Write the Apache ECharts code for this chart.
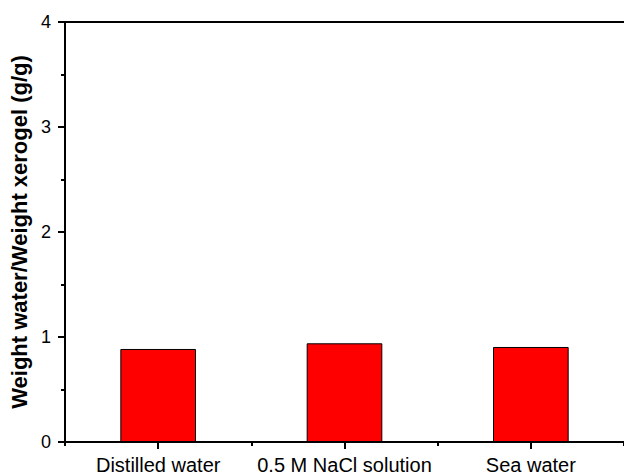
<!DOCTYPE html>
<html>
<head>
<meta charset="utf-8">
<script src="https://cdn.jsdelivr.net/npm/echarts@6/dist/echarts.min.js"></script>
<style>html,body{margin:0;padding:0;background:#fff;}#c{width:624px;height:476px;}</style>
</head>
<body>
<div id="c"></div>
<script>
const categories = ['Distilled water', '0.5 M NaCl solution', 'Sea water'];
const values = [0.886, 0.94, 0.905];
const yTicks = [0, 1, 2, 3, 4];
const yTitle = 'Weight water/Weight xerogel (g/g)';

const chart = echarts.init(document.getElementById('c'), null, {renderer: 'svg'});
const font = 'Arial, "Liberation Sans", sans-serif';
const yMin = yTicks[0], yMax = yTicks[yTicks.length - 1];
const tickStyle = {color: '#000', width: 2};
chart.setOption({
  animation: false,
  backgroundColor: '#fff',
  grid: {left: 64, top: 22, width: 569, height: 420, containLabel: false},
  xAxis: [
    {
      type: 'category', data: categories, position: 'bottom',
      axisLine: {show: true, lineStyle: {color: '#000', width: 2}},
      axisTick: {show: true, alignWithLabel: true, interval: 0, length: 7, lineStyle: tickStyle},
      axisLabel: {color: '#000', fontSize: 20, fontFamily: font, margin: 13, interval: 0, hideOverlap: false},
      splitLine: {show: false}
    },
    {
      type: 'category', data: categories, position: 'bottom',
      axisLine: {show: false},
      axisTick: {show: true, interval: 0, length: 4, lineStyle: tickStyle},
      axisLabel: {show: false},
      splitLine: {show: false}
    },
    {
      type: 'category', data: categories, position: 'top',
      axisLine: {show: true, lineStyle: {color: '#000', width: 2}},
      axisTick: {show: false},
      axisLabel: {show: false},
      splitLine: {show: false}
    }
  ],
  yAxis: {
    type: 'value', min: yMin, max: yMax, interval: 1, position: 'left',
    name: yTitle, nameLocation: 'middle', nameGap: 35,
    nameTextStyle: {color: '#000', fontSize: 22, fontWeight: 'bold', fontFamily: font},
    axisLine: {show: true, lineStyle: {color: '#000', width: 2}},
    axisTick: {show: true, length: 7, lineStyle: tickStyle},
    minorTick: {show: true, splitNumber: 2, length: 4, lineStyle: tickStyle},
    axisLabel: {color: '#000', fontSize: 18, fontFamily: font, margin: 14},
    splitLine: {show: false}
  },
  series: [
    {
      type: 'bar', xAxisIndex: 0, yAxisIndex: 0, data: values, barWidth: '40.6%',
      itemStyle: {color: '#ff0000', borderColor: '#000', borderWidth: 1}
    }
  ]
});
</script>
</body>
</html>
